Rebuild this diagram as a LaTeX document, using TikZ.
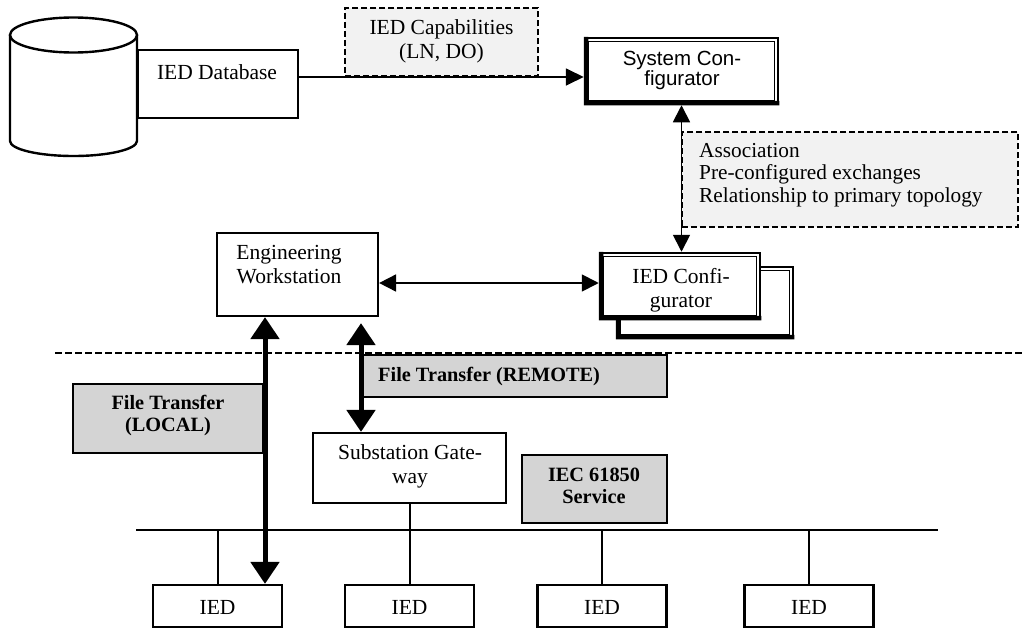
\documentclass[tikz,border=0pt]{standalone}
\usepackage{fontspec}
\setmainfont{Liberation Serif}
\setsansfont{Liberation Sans}
\usetikzlibrary{arrows.meta,calc}

% thick left/bottom band plus thin inner rule of a "tool" box
\newcommand\cfgframe[1]{%
  \fill ([shift={(0,0)}]#1.north west) -- (#1.south west) -- (#1.south east)
    -- ([shift={(0,-4.5)}]#1.south east) -- ([shift={(4.5,-4.5)}]#1.south west)
    -- ([shift={(4.5,0)}]#1.north west) -- cycle;
  \draw[line width=0.9pt] ([shift={(4.5,4.5)}]#1.north west) rectangle ([shift={(-4.5,-4.5)}]#1.south east);
}

\tikzset{
  box/.style={draw, line width=2.2pt, fill=white, inner sep=0pt},
  toolbox/.style={draw, line width=2.5pt, fill=white, inner sep=0pt},
  graybox/.style={draw, line width=2.2pt, fill=black!17, inner sep=0pt},
  dashbox/.style={draw, line width=1.8pt, dash pattern=on 6pt off 3pt, fill=black!5, inner sep=0pt},
  txt/.style={font=\fontsize{21.5}{24}\selectfont, align=center, inner sep=0pt},
  stxt/.style={font=\sffamily\fontsize{20.5}{20}\selectfont, align=center, inner sep=0pt},
  btxt/.style={font=\bfseries\fontsize{20.3}{22}\selectfont, align=center, inner sep=0pt},
  link/.style={line width=2pt},
  arr/.style={line width=1.8pt, -{Triangle[length=18pt,width=17pt]}},
  dblarr/.style={line width=1.8pt, {Triangle[length=17pt,width=17pt]}-{Triangle[length=17pt,width=17pt]}},
  bigarr/.style={line width=5pt, {Triangle[length=22pt,width=28pt]}-{Triangle[length=22pt,width=28pt]}},
  sepline/.style={line width=2pt, dash pattern=on 7pt off 3pt},
}

\begin{document}
\begin{tikzpicture}[x=1pt,y=-1pt]
\useasboundingbox (0,0) rectangle (1023,629);

% ---------- database ----------
\node[box, minimum width=160, minimum height=68] (db) at (218,84) {};
\node[txt] (dbt) at (217,72) {IED Database};
\draw[line width=2.4pt, fill=white] (10,35) -- (10,141)
  arc[start angle=180, end angle=0, x radius=63.5, y radius=15] -- (137,35);
\draw[line width=2.4pt, fill=white] (73.5,35) ellipse [x radius=63.5, y radius=17.5];

% ---------- capabilities and system configurator ----------
\node[dashbox, minimum width=193, minimum height=68] (cap) at (441.5,42) {};
\node[txt] (capt) at (441.5,41) {IED Capabilities\\(LN, DO)};

\node[toolbox, minimum width=193, minimum height=66] (sc) at (681.5,71) {};
\cfgframe{sc}
\node[stxt] (sct) at (682,70) {System Con-\\figurator};

\coordinate (dbl) at (0,77);
\draw[arr] (db.east |- dbl) -- (sc.west |- dbl);

% ---------- association ----------
\node[dashbox, minimum width=336, minimum height=95] (asc) at (850,179.5) {};
\node[txt, align=left, anchor=west, font=\fontsize{21.3}{22.5}\selectfont] (asct) at (699,175)
  {Association\\Pre-configured exchanges\\Relationship to primary topology};

% ---------- IED configurator ----------
\node[toolbox, minimum width=176, minimum height=71] (icfb) at (705,302.5) {};
\cfgframe{icfb}
\node[toolbox, minimum width=160, minimum height=66] (icf) at (680,286) {};
\cfgframe{icf}
\node[txt] (icft) at (681,290) {IED Confi-\\gurator};

\draw[dblarr] (sc.south) -- (sc.south |- icf.north);

% ---------- engineering workstation ----------
\node[box, minimum width=161, minimum height=83] (ws) at (297.5,274.5) {};
\node[txt] (wst) at (289,265) {Engineering\\Workstation};
\coordinate (wl) at (0,283);
\draw[dblarr] (ws.east |- wl) -- (icf.west |- wl);

% ---------- boundary ----------
\coordinate (sepL) at (55,353);
\coordinate (sepR) at (1023,353);
\draw[sepline] (sepL) -- (sepR);

% ---------- substation side ----------
\node[graybox, minimum width=190, minimum height=69] (loc) at (168,418.5) {};
\node[btxt] (loct) at (168,416) {File Transfer\\(LOCAL)};

\node[graybox, minimum width=305, minimum height=42] (rem) at (514.5,376) {};
\node[btxt, anchor=west] (remt) at (378,377) {File Transfer (REMOTE)};

\node[box, minimum width=193, minimum height=70] (gw) at (409.5,468) {};
\node[txt] (gwt) at (410,466) {Substation Gate-\\way};

\node[graybox, minimum width=145, minimum height=68] (iec) at (594.5,489) {};
\node[btxt] (iect) at (594,486) {IEC 61850\\Service};

% ---------- station bus and IEDs ----------
\coordinate (busL) at (136,530);
\coordinate (busR) at (938,530);
\draw[line width=2.5pt] (busL) -- (busR);

\foreach \n/\x in {1/217.5, 2/409.5, 3/602, 4/809}{
  \node[box, minimum width=129, minimum height=42] (ied\n) at (\x,606) {};
  \node[txt] (ied\n t) at (\x,607) {IED};
}
\draw[link] (ied1.north) -- (ied1.north |- busL);
\draw[link] (gw.south) -- (ied2.north);
\draw[link] (ied3.north) -- (ied3.north |- busL);
\draw[link] (ied4.north) -- (ied4.north |- busL);

% ---------- file transfer paths ----------
\coordinate (la) at (265,0);
\coordinate (ra) at (361,0);
\draw[bigarr] (ws.south -| la) -- (ied1.north -| la);
\draw[bigarr, shorten <=6pt] (ws.south -| ra) -- (gw.north -| ra);
\end{tikzpicture}
\end{document}
